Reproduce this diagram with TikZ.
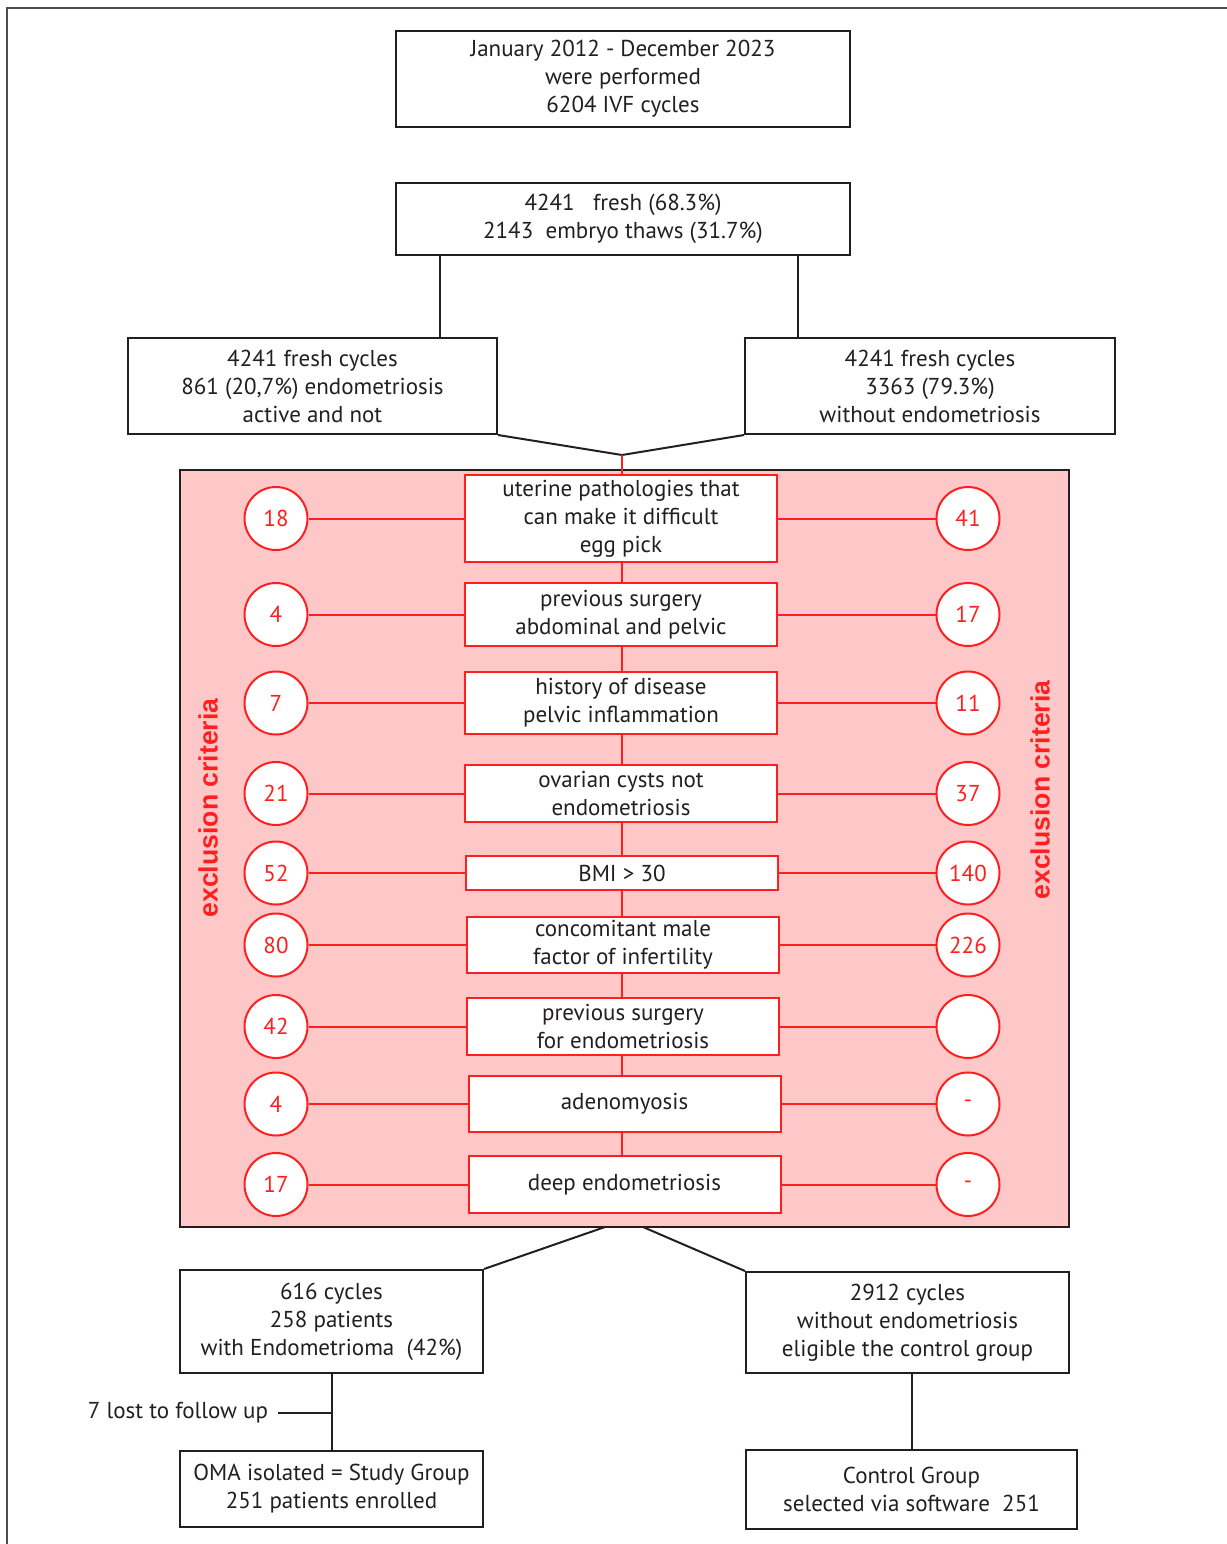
\documentclass[tikz,border=0pt]{standalone}
\usepackage{fontspec}
\setmainfont{PT Sans}
\newfontfamily\critfont{Liberation Sans}
\usepackage{tikz}
\definecolor{inkblack}{HTML}{231F20}
\definecolor{critred}{HTML}{FF1F1F}
\definecolor{critpink}{HTML}{FFC8C8}
\definecolor{framegray}{HTML}{4D4D4D}
\tikzset{
  flowbox/.style={draw=inkblack,fill=white,line width=1pt,align=center,inner sep=0pt,
    text=inkblack,font=\fontsize{11.5}{14}\selectfont},
  critbox/.style={flowbox,draw=critred,minimum width=156pt},
  countcirc/.style={circle,draw=critred,fill=white,line width=1pt,minimum size=31.5pt,
    inner sep=0pt,text=critred,font=\fontsize{11.5}{14}\selectfont},
  flowline/.style={draw=inkblack,line width=1pt},
  critline/.style={draw=critred,line width=1pt},
  critlabel/.style={text=critred,font=\critfont\bfseries\fontsize{13.3}{15}\selectfont,rotate=90}
}

\begin{document}
\begin{tikzpicture}[x=0.5pt,y=-0.5pt]
  \useasboundingbox (0,0) rectangle (1227,1544);
  \draw[framegray,line width=1pt] (7,1544) -- (7,8) -- (1227,8);

  % cycles overview
  \node[flowbox,minimum width=227pt,minimum height=48pt] (period) at (623,79)
    {January 2012 - December 2023\\were performed\\6204 IVF cycles};
  \node[flowbox,minimum width=227pt,minimum height=36pt] (split) at (623,219)
    {4241\ \ \ fresh (68.3\%)\\2143\ \ embryo thaws (31.7\%)};
  \node[flowbox,minimum width=184.5pt,minimum height=48pt] (endo) at (312.5,386)
    {4241 fresh cycles\\861 (20,7\%) endometriosis\\active and not};
  \node[flowbox,minimum width=185pt,minimum height=48pt] (noendo) at (930,386)
    {4241 fresh cycles\\3363 (79.3\%)\\without endometriosis};
  \coordinate (tapL) at (440,0);
  \coordinate (tapR) at (798,0);
  \coordinate (merge) at (622,455);
  \draw[flowline] (split.south -| tapL) -- (endo.north -| tapL);
  \draw[flowline] (split.south -| tapR) -- (noendo.north -| tapR);
  \draw[flowline] (endo.south east) -- (merge) -- (noendo.south west);

  % exclusion criteria
  \node[draw=inkblack,fill=critpink,line width=1pt,minimum width=444.5pt,
    minimum height=378.5pt,inner sep=0pt] (excl) at (624.5,848.5) {};
  \node[critlabel] (exclL) at (208,808) {exclusion criteria};
  \node[critlabel] (exclR) at (1040,790) {exclusion criteria};
  \foreach \i/\cx/\cy/\h/\txt/\l/\r in {
    1/621/518.5/43.5/{uterine pathologies that\\can make it difficult\\egg pick}/18/41,
    2/621/614.5/31.5/{previous surgery\\abdominal and pelvic}/4/17,
    3/621/703/31/{history of disease\\pelvic inflammation}/7/11,
    4/621/793.5/28.5/{ovarian cysts not\\endometriosis}/21/37,
    5/622/873/17/{BMI > 30}/52/140,
    6/623/945/28/{concomitant male\\factor of infertility}/80/226,
    7/623/1026.5/28.5/{previous surgery\\for endometriosis}/42/{},
    8/624.5/1104/28/{adenomyosis}/4/-,
    9/624.5/1184.5/28.5/{deep endometriosis}/17/-}{
    \node[critbox,minimum height=\h pt] (crit\i) at (\cx,\cy) {\txt};
    \node[countcirc] (lnum\i) at (276,\cy) {\l};
    \node[countcirc] (rnum\i) at (968,\cy) {\r};
    \draw[critline] (lnum\i) -- (crit\i) -- (rnum\i);
  }
  \coordinate (spine) at (622,0);
  \foreach \i/\j in {1/2,2/3,3/4,4/5,5/6,6/7,7/8,8/9}
    \draw[critline] (crit\i.south -| spine) -- (crit\j.north -| spine);
  \draw[critline] (merge) -- (crit1.north -| spine);

  % resulting groups
  \node[flowbox,minimum width=151.5pt,minimum height=51.5pt] (oma) at (331.5,1321.5)
    {616 cycles\\258 patients\\with Endometrioma\ \ (42\%)};
  \node[flowbox,minimum width=161.5pt,minimum height=50.5pt] (elig) at (907.5,1322.5)
    {2912 cycles\\without endometriosis\\eligible the control group};
  \node[flowbox,minimum width=151.5pt,minimum height=38pt] (study) at (331.5,1489)
    {OMA isolated = Study Group\\251 patients enrolled};
  \node[flowbox,minimum width=165.5pt,minimum height=39.5pt] (ctrl) at (911.5,1489.5)
    {Control Group\\selected via software\ \ 251};
  \coordinate (splitL) at (605,1227);
  \coordinate (splitR) at (643,1227);
  \draw[flowline] (splitL) -- (oma.north east);
  \draw[flowline] (splitR) -- (elig.north west);
  \draw[flowline] (oma) -- (study);
  \draw[flowline] (ctrl.north) -- (ctrl.north |- elig.south);
  \node[text=inkblack,font=\fontsize{11.5}{14}\selectfont,inner xsep=5pt] (lost) at (178,1413)
    {7 lost to follow up};
  \draw[flowline] (lost.east) -- (lost.east -| oma.south);
\end{tikzpicture}
\end{document}
